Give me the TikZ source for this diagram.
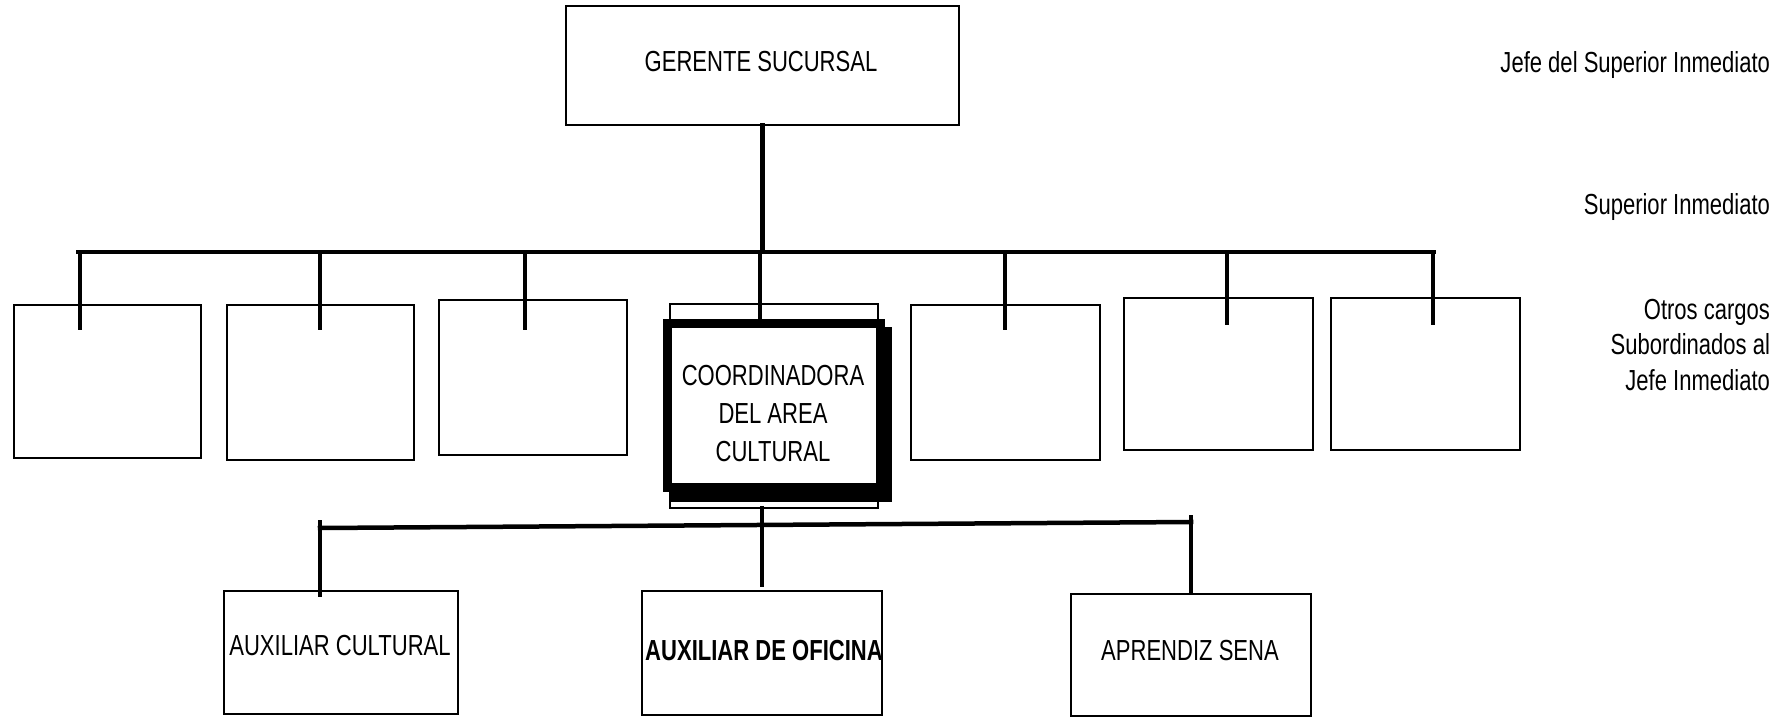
\documentclass[tikz,border=0pt]{standalone}
\usepackage{fontspec}
\newfontfamily\cf[FakeStretch=0.76]{Liberation Sans}
\begin{document}
\begin{tikzpicture}[x=1pt,y=-1pt,
  box/.style={draw=black, line width=2.5pt, inner sep=0pt, outer sep=0pt, fill=white},
  conn/.style={draw=black, line width=4.5pt, line cap=rect},
  lbl/.style={font=\cf\fontsize{29}{35.5}\selectfont, inner sep=0pt, outer sep=0pt}]
\useasboundingbox (0,0) rectangle (1785,718);

% boxes
\node[box, minimum width=393pt, minimum height=119pt] (top) at (762.5,65.5) {};
\node[box, minimum width=187pt, minimum height=153pt] (b1) at (107.5,381.5) {};
\node[box, minimum width=187pt, minimum height=155pt] (b2) at (320.5,382.5) {};
\node[box, minimum width=188pt, minimum height=155pt] (b3) at (533,377.5) {};
\node[box, minimum width=189pt, minimum height=155pt] (b5) at (1005.5,382.5) {};
\node[box, minimum width=189pt, minimum height=152pt] (b6) at (1218.5,374) {};
\node[box, minimum width=189pt, minimum height=152pt] (b7) at (1425.5,374) {};
\node[box, minimum width=208pt, minimum height=204pt] (thin) at (774,406) {};
\node[box, minimum width=234pt, minimum height=123pt] (c1) at (341,652.5) {};
\node[box, minimum width=240pt, minimum height=124pt] (c2) at (762,653) {};
\node[box, minimum width=240pt, minimum height=122pt] (c3) at (1191,655) {};

% connectors, upper level
\coordinate (busL) at (78,252);
\coordinate (busR) at (1434,252);
\draw[conn] (top.south) -- (top.south |- busL);
\draw[conn] (busL) -- (busR);
\foreach \n/\x/\y in {t1/80/328, t2/320/328, t3/525/328, t5/1005/328, t6/1227/323, t7/1433/323}{
  \coordinate (\n) at (\x,\y);
  \draw[conn] (\n |- busL) -- (\n);
}
\coordinate (tc) at (760,321);
\draw[conn] (tc |- busL) -- (tc);

% coordinator (thick frame with shadow)
\fill[black] (671,327) rectangle (892,502);
\node[draw=black, line width=9pt, fill=white, inner sep=0pt, outer sep=0pt,
      minimum width=213pt, minimum height=164pt] (coord) at (774,405.5) {};
\node[lbl, align=center, font=\cf\fontsize{29}{38}\selectfont] (coordtxt) at (773,414)
  {COORDINADORA\\DEL AREA\\CULTURAL};

% connectors, lower level
\coordinate (lbL) at (320,528);
\coordinate (lbR) at (1191,522);
\coordinate (m2) at (762,585);
\coordinate (l1) at (320,595);
\coordinate (l3) at (1191,592);
\draw[conn] (lbL) -- (lbR);
\draw[conn] (thin.south -| m2) -- (m2);
\draw[conn] (320,522) -- (l1);
\draw[conn] (1191,517) -- (l3);

% texts
\node[lbl] (ttop) at (761,62) {GERENTE SUCURSAL};
\node[lbl] (tc1) at (340,646) {AUXILIAR CULTURAL};
\node[lbl, font=\cf\bfseries\fontsize{29}{35}\selectfont] (tc2) at (764,651) {AUXILIAR DE OFICINA};
\node[lbl] (tc3) at (1190,651) {APRENDIZ SENA};

\node[lbl, anchor=base east] (r1) at (1770,72.5) {Jefe del Superior Inmediato};
\node[lbl, anchor=base east] (r2) at (1770,214.5) {Superior Inmediato};
\node[lbl, anchor=east, align=right] (r3) at (1770,345) {Otros cargos\\Subordinados al\\Jefe Inmediato};
\end{tikzpicture}
\end{document}
